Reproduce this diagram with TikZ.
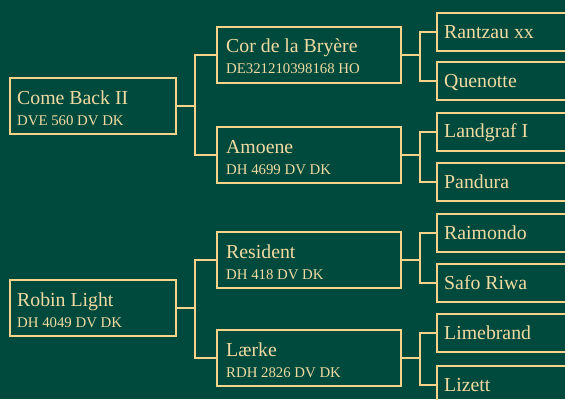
\documentclass[tikz,border=0pt]{standalone}
\usepackage{fontspec}
\setmainfont{Liberation Serif}
\definecolor{bg}{HTML}{004A3D}
\definecolor{gold}{HTML}{F5D48A}
\definecolor{txt}{HTML}{F1DBA2}
\begin{document}
\begin{tikzpicture}[x=1pt,y=-1pt,
  box/.style={draw=gold,line width=2pt,rectangle,inner sep=0pt},
  gone/.style={box,minimum width=166pt,minimum height=56pt},
  gtwo/.style={box,minimum width=184pt,minimum height=56pt},
  gthree/.style={box,minimum width=170pt,minimum height=38pt},
  nm/.style={anchor=base west,inner sep=0pt,text=txt,font=\fontsize{19.8}{23}\selectfont},
  sb/.style={anchor=base west,inner sep=0pt,text=txt,font=\fontsize{14.8}{17}\selectfont},
  conn/.style={draw=gold,line width=2pt}]
\fill[bg] (0,0) rectangle (565,399);
\useasboundingbox (0,0) rectangle (565,399);
\clip (0,0) rectangle (565,399);
% generation 1
\node[gone] (cb) at (93,106) {};
\node[gone] (rl) at (93,308) {};
% generation 2
\node[gtwo] (cor) at (309,54.5) {};
\node[gtwo] (amo) at (309,155) {};
\node[gtwo] (res) at (309,260) {};
\node[gtwo] (lae) at (309,358) {};
% generation 3
\node[gthree] (ran) at (522,32) {};
\node[gthree] (que) at (522,81) {};
\node[gthree] (lan) at (522,131.5) {};
\node[gthree] (pan) at (522,182) {};
\node[gthree] (rai) at (522,233) {};
\node[gthree] (saf) at (522,283) {};
\node[gthree] (lim) at (522,333) {};
\node[gthree] (liz) at (522,385) {};
% texts
\node[nm] (cbn) at ([shift={(8,27)}]cb.north west) {Come Back II};
\node[sb] (cbs) at ([shift={(8,48)}]cb.north west) {DVE 560 DV DK};
\node[nm] (rln) at ([shift={(8,27)}]rl.north west) {Robin Light};
\node[sb] (rls) at ([shift={(8,48)}]rl.north west) {DH 4049 DV DK};
\node[nm] (corn) at ([shift={(10,27)}]cor.north west) {Cor de la Bryère};
\node[sb] (cors) at ([shift={(10,48)}]cor.north west) {DE321210398168 HO};
\node[nm] (amon) at ([shift={(10,27)}]amo.north west) {Amoene};
\node[sb] (amos) at ([shift={(10,48)}]amo.north west) {DH 4699 DV DK};
\node[nm] (resn) at ([shift={(10,27)}]res.north west) {Resident};
\node[sb] (ress) at ([shift={(10,48)}]res.north west) {DH 418 DV DK};
\node[nm] (laen) at ([shift={(10,27)}]lae.north west) {Lærke};
\node[sb] (laes) at ([shift={(10,48)}]lae.north west) {RDH 2826 DV DK};
\node[nm] (rann) at ([shift={(8,26)}]ran.north west) {Rantzau xx};
\node[nm] (quen) at ([shift={(8,26)}]que.north west) {Quenotte};
\node[nm] (lann) at ([shift={(8,26)}]lan.north west) {Landgraf I};
\node[nm] (pann) at ([shift={(8,26)}]pan.north west) {Pandura};
\node[nm] (rain) at ([shift={(8,26)}]rai.north west) {Raimondo};
\node[nm] (safn) at ([shift={(8,26)}]saf.north west) {Safo Riwa};
\node[nm] (limn) at ([shift={(8,26)}]lim.north west) {Limebrand};
\node[nm] (lizn) at ([shift={(8,26)}]liz.north west) {Lizett};
% connectors
\draw[conn] (cb.east) -- ++(18,0) |- (cor.west);
\draw[conn] (cb.east) -- ++(18,0) |- (amo.west);
\draw[conn] (rl.east) -- ++(18,0) |- (res.west);
\draw[conn] (rl.east) -- ++(18,0) |- (lae.west);
\draw[conn] (cor.east) -- ++(18,0) |- (ran.west);
\draw[conn] (cor.east) -- ++(18,0) |- (que.west);
\draw[conn] (amo.east) -- ++(18,0) |- (lan.west);
\draw[conn] (amo.east) -- ++(18,0) |- (pan.west);
\draw[conn] (res.east) -- ++(18,0) |- (rai.west);
\draw[conn] (res.east) -- ++(18,0) |- (saf.west);
\draw[conn] (lae.east) -- ++(18,0) |- (lim.west);
\draw[conn] (lae.east) -- ++(18,0) |- (liz.west);
\end{tikzpicture}
\end{document}
